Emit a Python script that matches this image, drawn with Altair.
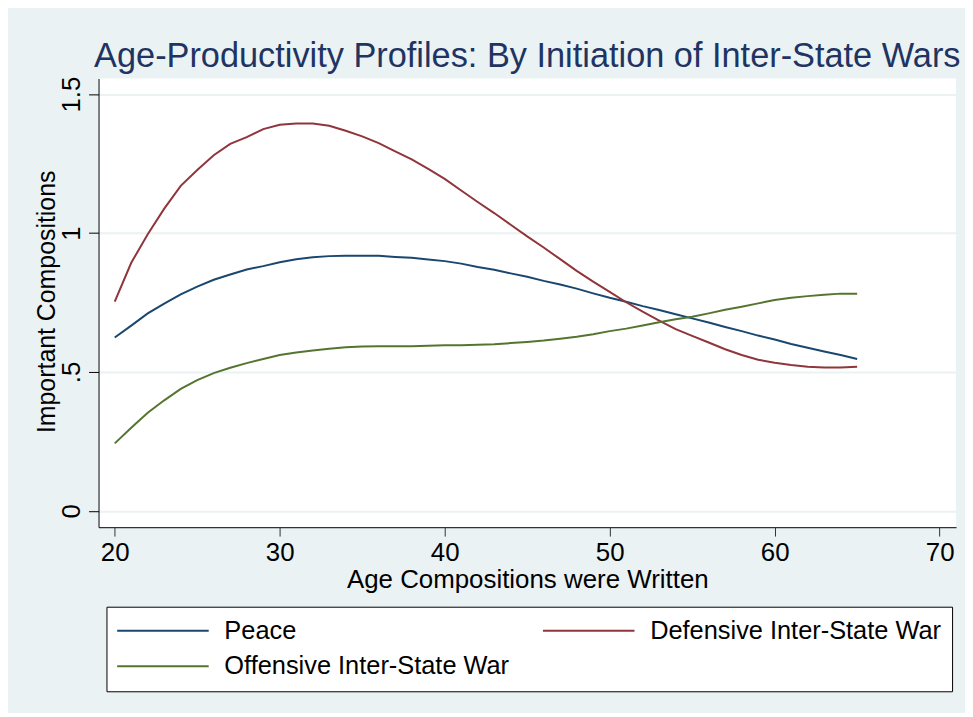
import altair as alt
import pandas as pd

ages = list(range(20, 66))

peace = [0.624, 0.667, 0.711, 0.746, 0.779, 0.807, 0.832, 0.851, 0.869, 0.881,
         0.895, 0.906, 0.913, 0.917, 0.918, 0.918, 0.918, 0.914, 0.911, 0.905,
         0.899, 0.890, 0.878, 0.868, 0.855, 0.843, 0.828, 0.815, 0.800, 0.783,
         0.767, 0.753, 0.737, 0.723, 0.708, 0.693, 0.678, 0.662, 0.647, 0.631,
         0.617, 0.601, 0.587, 0.574, 0.561, 0.547]

defensive = [0.753, 0.893, 0.996, 1.088, 1.170, 1.227, 1.280, 1.321, 1.345, 1.374,
             1.390, 1.394, 1.394, 1.386, 1.368, 1.348, 1.324, 1.294, 1.265, 1.231,
             1.195, 1.153, 1.112, 1.072, 1.030, 0.988, 0.948, 0.906, 0.864, 0.825,
             0.788, 0.751, 0.717, 0.685, 0.654, 0.630, 0.606, 0.582, 0.561, 0.544,
             0.533, 0.525, 0.519, 0.516, 0.516, 0.519]

offensive = [0.243, 0.299, 0.353, 0.398, 0.439, 0.471, 0.496, 0.515, 0.532, 0.547,
             0.561, 0.570, 0.577, 0.584, 0.589, 0.592, 0.593, 0.593, 0.593, 0.594,
             0.596, 0.596, 0.598, 0.600, 0.604, 0.608, 0.613, 0.620, 0.627, 0.636,
             0.647, 0.656, 0.667, 0.679, 0.690, 0.699, 0.711, 0.724, 0.735, 0.747,
             0.759, 0.767, 0.773, 0.778, 0.782, 0.782]

series_names = ["Peace", "Defensive Inter-State War", "Offensive Inter-State War"]
series_colors = ["#1A476F", "#90353B", "#55752F"]
x_ticks = [20, 30, 40, 50, 60, 70]
y_ticks = [0, 0.5, 1, 1.5]
y_tick_labels = ["0", ".5", "1", "1.5"]

rows = []
for name, vals in zip(series_names, [peace, defensive, offensive]):
    for a, v in zip(ages, vals):
        rows.append({"age": a, "value": v, "series": name})
df = pd.DataFrame(rows)

y_label_expr = " : ".join(
    f"datum.value == {v} ? '{t}'" for v, t in zip(y_ticks, y_tick_labels)
) + " : datum.label"

FONT = "Liberation Sans"

chart = alt.Chart(df).mark_line(strokeWidth=2).encode(
    x=alt.X(
        "age:Q",
        scale=alt.Scale(domain=[19.017, 70.995], nice=False, zero=False),
        axis=alt.Axis(
            title="Age Compositions were Written",
            values=x_ticks,
            grid=False,
            domainColor="#333333",
            domainWidth=1.5,
            tickColor="#333333",
            tickSize=9,
            tickWidth=1,
            labelFont=FONT,
            labelFontSize=26,
            labelColor="black",
            labelPadding=4,
            labelFlush=False,
            titleFont=FONT,
            titleFontSize=26,
            titleFontWeight="normal",
            titleColor="black",
            titleX=431,
            titleY=61,
            titleAlign="center",
            titleBaseline="alphabetic",
        ),
    ),
    y=alt.Y(
        "value:Q",
        scale=alt.Scale(domain=[-0.0584, 1.5564], nice=False, zero=False),
        axis=alt.Axis(
            title="Important Compositions",
            values=y_ticks,
            labelExpr=y_label_expr,
            grid=True,
            gridColor="#EAF2F3",
            gridWidth=2,
            domainColor="black",
            domainWidth=1,
            tickColor="black",
            tickSize=10,
            tickWidth=1,
            labelFont=FONT,
            labelFontSize=26,
            labelColor="black",
            labelAngle=-90,
            labelAlign="center",
            labelBaseline="alphabetic",
            labelPadding=9,
            titleFont=FONT,
            titleFontSize=25,
            titleFontWeight="normal",
            titleColor="black",
            titleAngle=-90,
            titleX=-52,
            titleY=224,
            titleAlign="center",
            titleBaseline="middle",
        ),
    ),
    color=alt.Color(
        "series:N",
        scale=alt.Scale(domain=series_names, range=series_colors),
        legend=alt.Legend(
            title=None,
            orient="none",
            legendX=8,
            legendY=531,
            direction="horizontal",
            columns=2,
            columnPadding=29,
            rowPadding=9,
            symbolType="M0,0H9.2",
            symbolSize=400,
            symbolStrokeWidth=2,
            symbolOffset=-13,
            labelOffset=95,
            labelFont=FONT,
            labelFontSize=25.5,
            labelColor="black",
            labelLimit=0,
            strokeColor="black",
            fillColor="white",
            padding=11,
        ),
    ),
).properties(
    width=862,
    height=451,
    title=alt.TitleParams(
        text="Age-Productivity Profiles: By Initiation of Inter-State Wars",
        font=FONT,
        fontSize=34.5,
        fontWeight="normal",
        color="#1F3462",
        anchor="middle",
        offset=2,
    ),
    background="#EAF2F3",
    padding={"left": 91, "top": 69, "right": 9, "bottom": 185},
    autosize=alt.AutoSizeParams(type="none"),
).configure_view(
    stroke=None,
    fill="white",
)

chart.save("out.html", embed_options={"renderer": "svg", "actions": False})
